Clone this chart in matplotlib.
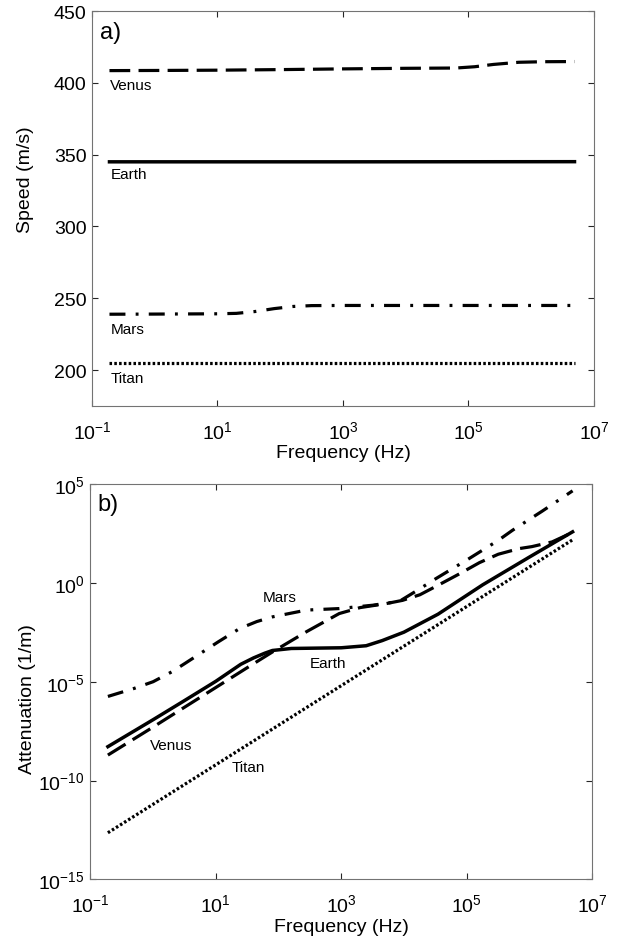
import numpy as np
import matplotlib
matplotlib.use("Agg")
import matplotlib.pyplot as plt
from matplotlib.ticker import FixedLocator, FuncFormatter, NullLocator

plt.rcParams['font.family'] = ['Liberation Sans', 'DejaVu Sans']
plt.rcParams['mathtext.fontset'] = 'custom'
plt.rcParams['mathtext.rm'] = 'Liberation Sans'
plt.rcParams['mathtext.it'] = 'Liberation Sans:italic'
plt.rcParams['mathtext.bf'] = 'Liberation Sans:bold'

# ---- a) speed of sound (m/s) vs frequency (Hz)
venus_speed_f = [0.19, 1, 10, 100, 1e3, 1e4, 6.3e4, 1.26e5, 2.5e5, 6.3e5, 1.6e6, 4.9e6]
venus_speed = [408.5, 408.6, 408.8, 409.2, 409.7, 410.1, 410.3, 411.2, 412.8, 414.3, 414.7, 414.8]

earth_speed_f = [0.19, 1e3, 4.9e6]
earth_speed = [345.0, 345.0, 345.1]

mars_speed_f = [0.19, 1, 10, 20, 40, 80, 160, 316, 1e3, 1e4, 1e5, 1e6, 4.9e6]
mars_speed = [238.9, 239.0, 239.2, 239.5, 240.8, 242.8, 244.3, 244.9, 245.0, 245.0, 245.0, 245.0, 245.0]

titan_speed_f = [0.19, 4.9e6]
titan_speed = [205.0, 205.0]

# ---- b) attenuation (1/m) vs frequency (Hz)
earth_att_f = [0.19, 1, 3, 10, 25, 40, 60, 80, 160, 1e3, 2.5e3, 4.5e3, 1e4, 3.5e4, 1.8e5, 1e6, 4.9e6]
earth_att = [5.2e-9, 1.2e-7, 1.0e-6, 1.05e-5, 7.6e-5, 1.6e-4, 2.75e-4, 3.8e-4, 4.8e-4, 5.2e-4,
             6.6e-4, 1.2e-3, 3.2e-3, 2.6e-2, 0.79, 20, 380]

venus_att_f = [0.19, 1, 3.16, 10, 31.6, 80, 280, 930, 2000, 5200, 9500, 1.8e4, 3.6e4, 7.6e4,
               1.6e5, 3.2e5, 6.9e5, 1.1e6, 2.3e6, 4.9e6]
venus_att = [1.95e-9, 5.1e-8, 5.1e-7, 5.1e-6, 5.1e-5, 3.2e-4, 3.4e-3, 2.8e-2, 5.6e-2, 8.9e-2,
             0.13, 0.25, 0.79, 2.8, 10.5, 28, 54, 68, 117, 355]

mars_att_f = [0.19, 0.5, 1, 2, 3.2, 11, 24, 45, 80, 280, 930, 3200, 8500, 1.6e4, 3.2e4, 5.8e4,
              1.1e5, 3.2e5, 5.4e5, 1.6e6, 4.9e6]
mars_att = [1.8e-6, 4.6e-6, 1.0e-5, 3.2e-5, 8.3e-5, 1.05e-3, 4.9e-3, 1.1e-2, 1.9e-2, 4.2e-2, 5.0e-2,
            7.4e-2, 0.117, 0.40, 1.6, 5.0, 17, 141, 457, 4200, 4.5e4]

titan_att_f = [0.19, 10, 1e3, 1e5, 4.9e6]
titan_att = [2.3e-13, 6.3e-10, 6.3e-6, 6.3e-2, 150]

x_ticks = [1e-1, 1e1, 1e3, 1e5, 1e7]
speed_ticks = [200, 250, 300, 350, 400, 450]
att_ticks = [1e-15, 1e-10, 1e-5, 1e0, 1e5]

LW = 2.3
DASH = (6.5, 2.6)
DASHDOT = (5, 3.2, 0.9, 3.2)
DOT = (0.8, 0.7)


def pow10(v, pos):
    return r'$10^{%d}$' % int(round(np.log10(v)))


def style_axes(ax):
    for s in ax.spines.values():
        s.set_color('0.45')
        s.set_linewidth(0.8)
    ax.tick_params(which='both', direction='in', top=True, right=True,
                   length=4.3, width=0.8, color='0.15', labelsize=14)
    ax.tick_params(axis='x', pad=10)
    ax.tick_params(axis='y', pad=4)
    ax.set_xscale('log')
    ax.set_xlim(1e-1, 1e7)
    ax.xaxis.set_major_locator(FixedLocator(x_ticks))
    ax.xaxis.set_minor_locator(NullLocator())
    ax.xaxis.set_major_formatter(FuncFormatter(pow10))


fig = plt.figure(figsize=(6.27, 9.45), dpi=100)

# a) speed
ax1 = fig.add_axes([0.1467, 0.5693, 0.8006, 0.418])
style_axes(ax1)
ax1.plot(venus_speed_f, venus_speed, color='k', lw=LW, dashes=DASH)
ax1.plot(earth_speed_f, earth_speed, color='k', lw=LW + 0.2)
ax1.plot(mars_speed_f, mars_speed, color='k', lw=LW, dashes=DASHDOT)
ax1.plot(titan_speed_f, titan_speed, color='k', lw=LW, dashes=DOT)
ax1.set_ylim(175, 450)
ax1.yaxis.set_major_locator(FixedLocator(speed_ticks))
ax1.set_xlabel('Frequency (Hz)', fontsize=14)
ax1.set_ylabel('Speed (m/s)', fontsize=14)
ax1.xaxis.set_label_coords(0.5, -0.097)
ax1.yaxis.set_label_coords(-0.115, 0.575)
ax1.text(0.015, 0.975, 'a)', transform=ax1.transAxes, fontsize=17, ha='left', va='top')
ax1.text(0.196, 398.8, 'Venus', fontsize=11, va='center')
ax1.text(0.196, 336.3, 'Earth', fontsize=11, va='center')
ax1.text(0.196, 228.7, 'Mars', fontsize=11, va='center')
ax1.text(0.196, 194.2, 'Titan', fontsize=11, va='center')

# b) attenuation
ax2 = fig.add_axes([0.1442, 0.0683, 0.800, 0.4185])
style_axes(ax2)
ax2.plot(venus_att_f, venus_att, color='k', lw=LW, dashes=DASH)
ax2.plot(earth_att_f, earth_att, color='k', lw=LW + 0.2)
ax2.plot(mars_att_f, mars_att, color='k', lw=LW, dashes=DASHDOT)
ax2.plot(titan_att_f, titan_att, color='k', lw=LW, dashes=DOT)
ax2.set_yscale('log')
ax2.set_ylim(1e-15, 1e5)
ax2.yaxis.set_major_locator(FixedLocator(att_ticks))
ax2.yaxis.set_minor_locator(NullLocator())
ax2.yaxis.set_major_formatter(FuncFormatter(pow10))
ax2.set_xlabel('Frequency (Hz)', fontsize=14)
ax2.set_ylabel('Attenuation (1/m)', fontsize=14)
ax2.xaxis.set_label_coords(0.5, -0.097)
ax2.yaxis.set_label_coords(-0.108, 0.459)
ax2.text(0.015, 0.978, 'b)', transform=ax2.transAxes, fontsize=17, ha='left', va='top')
ax2.text(57, 10 ** -0.72, 'Mars', fontsize=11, va='center')
ax2.text(316, 10 ** -4.03, 'Earth', fontsize=11, va='center')
ax2.text(0.9, 10 ** -8.22, 'Venus', fontsize=11, va='center')
ax2.text(18, 10 ** -9.32, 'Titan', fontsize=11, va='center')

fig.savefig('out.png', dpi=100)
